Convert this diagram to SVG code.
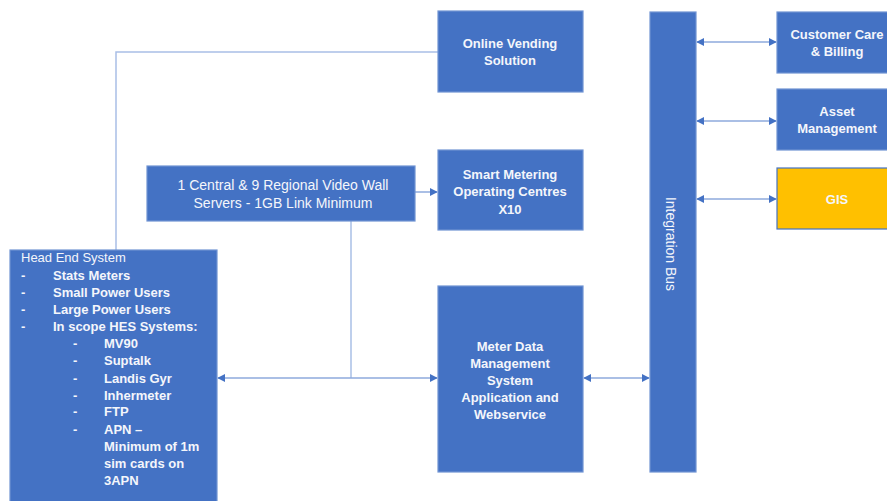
<svg xmlns="http://www.w3.org/2000/svg" width="887" height="501" viewBox="0 0 887 501">
<style>
.box{fill:#4472C4;stroke:#6F93D3;stroke-width:1.2}
.gis{fill:#FFC000;stroke:#4472C4;stroke-width:1.2}
.t{font-family:"Liberation Sans",Arial,sans-serif;font-size:13px;font-weight:bold;fill:#F4F6FB;text-anchor:middle}
.tr{font-family:"Liberation Sans",Arial,sans-serif;font-size:14px;fill:#F4F6FB;text-anchor:middle}
.h{font-family:"Liberation Sans",Arial,sans-serif;font-size:13px;fill:#F4F6FB}
.hb{font-family:"Liberation Sans",Arial,sans-serif;font-size:13px;font-weight:bold;fill:#F4F6FB}
.ln{fill:none;stroke:#A9BFE6;stroke-width:1.5}
.ar{fill:none;stroke:#8EAADC;stroke-width:1.5}
</style>
<defs>
<marker id="ah" viewBox="0 0 10 10" refX="9" refY="5" markerWidth="8" markerHeight="8" markerUnits="userSpaceOnUse" orient="auto-start-reverse">
<path d="M0,0 L10,5 L0,10 z" fill="#4472C4"/>
</marker>
</defs>
<rect width="887" height="501" fill="#FFFFFF"/>
<g id="connectors">
<polyline class="ln" points="438,52 116,52 116,250"/>
<line class="ar" x1="415" y1="192" x2="437" y2="192" marker-end="url(#ah)"/>
<polyline class="ln" points="351,221 351,378"/>
<line class="ar" x1="218" y1="378" x2="437" y2="378" marker-start="url(#ah)" marker-end="url(#ah)"/>
<line class="ar" x1="584" y1="378" x2="649" y2="378" marker-start="url(#ah)" marker-end="url(#ah)"/>
<line class="ar" x1="697" y1="42" x2="776" y2="42" marker-start="url(#ah)" marker-end="url(#ah)"/>
<line class="ar" x1="697" y1="121" x2="776" y2="121" marker-start="url(#ah)" marker-end="url(#ah)"/>
<line class="ar" x1="697" y1="199" x2="776" y2="199" marker-start="url(#ah)" marker-end="url(#ah)"/>
</g>
<g id="online-vending">
<rect class="box" x="438" y="11" width="145" height="81"/>
<text class="t" x="510" y="48">Online Vending</text>
<text class="t" x="510" y="65">Solution</text>
</g>
<g id="video-wall">
<rect class="box" x="147" y="166" width="268" height="55"/>
<text class="tr" x="283" y="190">1 Central &amp; 9 Regional Video Wall</text>
<text class="tr" x="283" y="208">Servers - 1GB Link Minimum</text>
</g>
<g id="smart-metering">
<rect class="box" x="438" y="150" width="145" height="80"/>
<text class="t" x="510" y="179">Smart Metering</text>
<text class="t" x="510" y="196">Operating Centres</text>
<text class="t" x="510" y="214">X10</text>
</g>
<g id="mdm">
<rect class="box" x="438" y="286" width="145" height="186"/>
<text class="t" x="510" y="351">Meter Data</text>
<text class="t" x="510" y="368">Management</text>
<text class="t" x="510" y="385">System</text>
<text class="t" x="510" y="402">Application and</text>
<text class="t" x="510" y="419">Webservice</text>
</g>
<g id="integration-bus">
<rect class="box" x="650" y="12" width="46" height="460"/>
<text class="tr" transform="translate(666,244) rotate(90)">Integration Bus</text>
</g>
<g id="customer-care">
<rect class="box" x="777" y="12" width="115" height="61"/>
<text class="t" x="837" y="39">Customer Care</text>
<text class="t" x="837" y="56">&amp; Billing</text>
</g>
<g id="asset-management">
<rect class="box" x="777" y="89" width="115" height="61"/>
<text class="t" x="837" y="116">Asset</text>
<text class="t" x="837" y="133">Management</text>
</g>
<g id="gis">
<rect class="gis" x="777" y="168" width="115" height="61"/>
<text class="t" x="837" y="204">GIS</text>
</g>
<g id="head-end-system">
<rect class="box" x="10" y="250" width="207" height="260"/>
<text class="h" x="21" y="262">Head End System</text>
<text class="hb" x="21" y="280">-</text><text class="hb" x="53" y="280">Stats Meters</text>
<text class="hb" x="21" y="297">-</text><text class="hb" x="53" y="297">Small Power Users</text>
<text class="hb" x="21" y="314">-</text><text class="hb" x="53" y="314">Large Power Users</text>
<text class="hb" x="21" y="331">-</text><text class="hb" x="53" y="331">In scope HES Systems:</text>
<text class="hb" x="73" y="348">-</text><text class="hb" x="104" y="348">MV90</text>
<text class="hb" x="73" y="365">-</text><text class="hb" x="104" y="365">Suptalk</text>
<text class="hb" x="73" y="383">-</text><text class="hb" x="104" y="383">Landis Gyr</text>
<text class="hb" x="73" y="400">-</text><text class="hb" x="104" y="400">Inhermeter</text>
<text class="hb" x="73" y="416">-</text><text class="hb" x="104" y="416">FTP</text>
<text class="hb" x="73" y="434">-</text><text class="hb" x="104" y="434">APN –</text>
<text class="hb" x="104" y="451">Minimum of 1m</text>
<text class="hb" x="104" y="468">sim cards on</text>
<text class="hb" x="104" y="485">3APN</text>
</g>
</svg>
